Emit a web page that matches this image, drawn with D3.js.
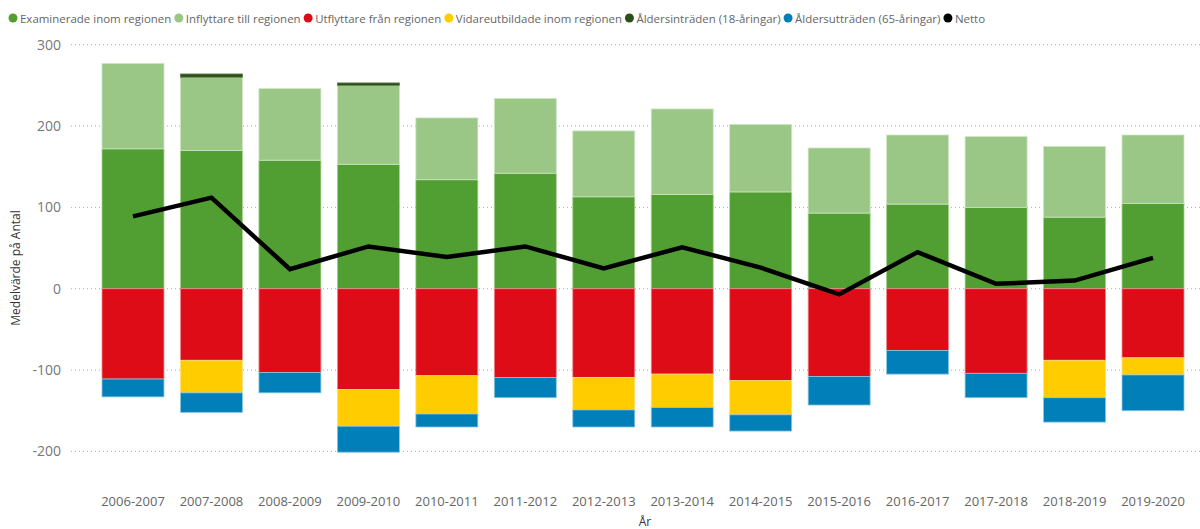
<!DOCTYPE html>
<html>
<head>
<meta charset="utf-8">
<script src="https://cdn.jsdelivr.net/npm/d3@7"></script>
<style>
  html, body { margin: 0; padding: 0; background: #fff; }
  svg { display: block; font-family: "Open Sans", "Noto Sans", sans-serif; }
</style>
</head>
<body>
<svg id="chart" width="1200" height="529"></svg>
<script>
// ---------- DATA ----------
const years = ["2006-2007","2007-2008","2008-2009","2009-2010","2010-2011","2011-2012","2012-2013",
               "2013-2014","2014-2015","2015-2016","2016-2017","2017-2018","2018-2019","2019-2020"];
const examinerade   = [172, 170, 158, 153, 134, 142, 113, 116, 119,  93, 104, 100,  88, 105];
const inflyttare    = [105,  90,  88,  97,  76,  92,  81, 105,  83,  80,  85,  87,  87,  84];
const aldersintr    = [  0,   4,   0,   3,   0,   0,   0,   0,   0,   0,   0,   0,   0,   0];
const utflyttare    = [-111, -88, -103, -124, -107, -109, -109, -105, -113, -108, -76, -104, -88, -85];
const vidareutb     = [  0, -40,   0, -45, -47,   0, -40, -41, -42,   0,   0,   0, -46, -21];
const aldersutt     = [-22, -24, -25, -32, -16, -25, -21, -24, -20, -35, -29, -30, -30, -44];
const netto         = [ 89, 112,  24,  52,  39,  52,  25,  51,  26,  -7,  45,   6,  10,  38];
const yTicks        = [-200, -100, 0, 100, 200, 300];

const seriesNames = ["Examinerade inom regionen","Inflyttare till regionen","Utflyttare från regionen",
                     "Vidareutbildade inom regionen","Åldersinträden (18-åringar)","Åldersutträden (65-åringar)","Netto"];
const seriesColors = ["#519E32","#9AC686","#DD0C17","#FFCC00","#2B5118","#007FB9","#000000"];

// ---------- CHART ----------
const svg = d3.select("#chart");
const x = d3.scaleBand().domain(years).range([102, 1184]).paddingInner(0.21).paddingOuter(0);
const y = d3.scaleLinear().domain([-200, 300]).range([451.4, 44.7]);

// gridlines
const grid = svg.append("g");
grid.selectAll("line").data(yTicks).join("line")
  .attr("x1", 71).attr("x2", 1200)
  .attr("y1", d => y(d)).attr("y2", d => y(d))
  .attr("stroke", "#a8a8a8").attr("stroke-width", 1)
  .attr("stroke-dasharray", "1,3");

// y axis tick labels
const yAxis = svg.append("g").attr("transform", "translate(61,0)")
  .call(d3.axisLeft(y).tickValues(yTicks).tickSize(0).tickPadding(0).tickFormat(d => String(d)));
yAxis.select(".domain").remove();
yAxis.selectAll("text").attr("font-size", 14).attr("fill", "#777").attr("font-family", "'Open Sans', sans-serif");

// x axis labels
const xAxis = svg.append("g").attr("transform", "translate(0,497)")
  .call(d3.axisBottom(x).tickSize(0).tickPadding(0));
xAxis.select(".domain").remove();
xAxis.selectAll("text").attr("font-size", 13).attr("fill", "#666").attr("font-family", "'Open Sans', sans-serif");

// stacked bars
function stackSeries(posArrays, negArrays) {
  const out = [];
  years.forEach((yr, i) => {
    let pos = 0;
    posArrays.forEach(s => {
      const v = s.vals[i];
      if (v > 0) { out.push({yr, y0: pos, y1: pos + v, color: s.color, stroke: s.stroke}); pos += v; }
    });
    let neg = 0;
    negArrays.forEach(s => {
      const v = s.vals[i];
      if (v < 0) { out.push({yr, y0: neg + v, y1: neg, color: s.color, stroke: s.stroke}); neg += v; }
    });
  });
  return out;
}
const rects = stackSeries(
  [{vals: examinerade, color: seriesColors[0], stroke: "#a6d08f"},
   {vals: inflyttare,  color: seriesColors[1], stroke: "#cfe6c3"},
   {vals: aldersintr,  color: seriesColors[4], stroke: "#5d7a4d"}],
  [{vals: utflyttare,  color: seriesColors[2], stroke: "#ee8a90"},
   {vals: vidareutb,   color: seriesColors[3], stroke: "#ffe27a"},
   {vals: aldersutt,   color: seriesColors[5], stroke: "#8cc6e0"}]
);
svg.append("g").selectAll("rect").data(rects).join("rect")
  .attr("x", d => x(d.yr))
  .attr("width", x.bandwidth())
  .attr("y", d => y(d.y1))
  .attr("height", d => y(d.y0) - y(d.y1))
  .attr("fill", d => d.color)
  .attr("stroke", d => d.stroke)
  .attr("stroke-width", 0.8);

// netto line
const line = d3.line().x((d, i) => x(years[i]) + x.bandwidth() / 2).y(d => y(d));
svg.append("path").datum(netto)
  .attr("d", line)
  .attr("fill", "none").attr("stroke", "#000").attr("stroke-width", 4.5)
  .attr("stroke-linejoin", "miter").attr("stroke-linecap", "butt");

// axis titles
svg.append("text").attr("transform", "translate(20,268) rotate(-90)")
  .attr("text-anchor", "middle").attr("font-size", 12).attr("fill", "#333")
  .text("Medelvärde på Antal");
svg.append("text").attr("x", 645).attr("y", 526)
  .attr("text-anchor", "middle").attr("font-size", 12).attr("fill", "#333")
  .text("År");

// legend: fit text so it spans like the reference
const legend = svg.append("g");
const gap = 14.5, startX = 20, endX = 986;
const texts = seriesNames.map((name) =>
  legend.append("text").attr("y", 22.5).attr("font-size", 11).attr("fill", "#666").text(name));
const totalW = d3.sum(texts, t => t.node().getComputedTextLength());
const fs = 11 * (endX - startX - gap * (seriesNames.length - 1)) / totalW;
let lx = startX;
texts.forEach((t, i) => {
  t.attr("font-size", fs).attr("x", lx);
  legend.append("circle").attr("cx", lx - 7).attr("cy", 18).attr("r", 4.5).attr("fill", seriesColors[i]);
  lx += t.node().getComputedTextLength() + gap;
});
</script>
</body>
</html>
